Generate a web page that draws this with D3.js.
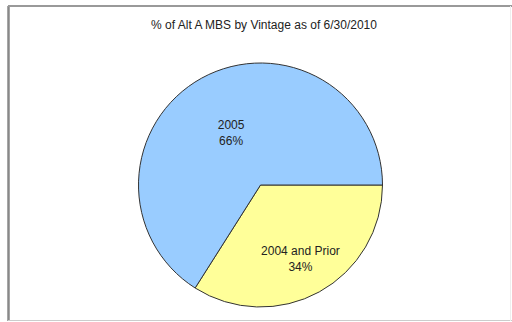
<!DOCTYPE html>
<html>
<head>
<meta charset="utf-8">
<script src="https://cdn.jsdelivr.net/npm/d3@7"></script>
<style>
  html, body { margin: 0; padding: 0; background: #fff; }
  svg { display: block; }
  text { font-family: "Liberation Sans", Arial, sans-serif; fill: #222; }
</style>
</head>
<body>
<svg id="chart" width="512" height="322"></svg>
<script>
const title = "% of Alt A MBS by Vintage as of 6/30/2010";
const categories = ["2004 and Prior", "2005"];
const values = [34, 66];
const colors = ["#ffff99", "#99ccff"];

const W = 512, H = 322;
const svg = d3.select("#chart");

// frame
svg.append("line").attr("x1", 8.5).attr("y1", 6).attr("x2", 8.5).attr("y2", 321)
  .attr("stroke", "#888").attr("stroke-width", 2.5);
svg.append("line").attr("x1", 8).attr("y1", 6).attr("x2", 512).attr("y2", 6)
  .attr("stroke", "#999").attr("stroke-width", 2);
svg.append("line").attr("x1", 8).attr("y1", 320.5).attr("x2", 512).attr("y2", 320.5)
  .attr("stroke", "#ccc").attr("stroke-width", 1);
svg.append("line").attr("x1", 510.5).attr("y1", 6).attr("x2", 510.5).attr("y2", 321)
  .attr("stroke", "#eee").attr("stroke-width", 1);

svg.append("text").attr("x", 264).attr("y", 29).attr("text-anchor", "middle")
  .style("font-size", "12px").text(title);

const cx = 260.5, cy = 185, r = 122;
const data = categories.map((c, i) => ({ cat: c, value: values[i], color: colors[i] }));
const pie = d3.pie().value(d => d.value).sort(null)
  .startAngle(Math.PI / 2).endAngle(Math.PI / 2 + 2 * Math.PI);
const arcs = pie(data);
const arc = d3.arc().innerRadius(0).outerRadius(r);

const g = svg.append("g").attr("transform", `translate(${cx},${cy})`);
g.selectAll("path").data(arcs).join("path")
  .attr("d", arc).attr("fill", d => d.data.color)
  .attr("stroke", "#333").attr("stroke-width", 1);

const labelFrac = [0.68, 0.5];
arcs.forEach((a, i) => {
  const la = d3.arc().innerRadius(r * labelFrac[i]).outerRadius(r * labelFrac[i]);
  const [x, y] = la.centroid(a);
  const t = g.append("text").attr("text-anchor", "middle").style("font-size", "12px");
  t.append("tspan").attr("x", x).attr("y", y - 3).text(a.data.cat);
  t.append("tspan").attr("x", x).attr("y", y + 13).text(a.data.value + "%");
});
</script>
</body>
</html>
